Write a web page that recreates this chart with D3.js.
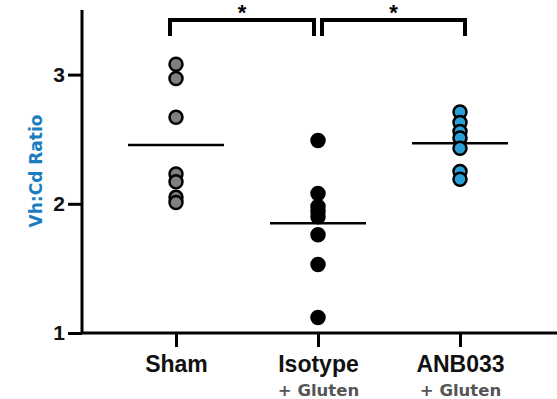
<!DOCTYPE html>
<html>
<head>
<meta charset="utf-8">
<script src="https://cdn.jsdelivr.net/npm/d3@7"></script>
<style>
  body { margin: 0; background: #fff; }
  svg { display: block; }
</style>
</head>
<body>
<div id="chart"></div>
<script>
// groups and values
var groups = ["Sham", "Isotype", "ANB033"];
var subLabels = ["", "+ Gluten", "+ Gluten"];
var fills = ["#808080", "#000000", "#2a9fd8"];
var shamVals = [3.08, 2.97, 2.67, 2.23, 2.17, 2.05, 2.01];
var isoVals = [2.49, 2.08, 1.98, 1.94, 1.90, 1.76, 1.53, 1.12];
var anbVals = [2.71, 2.63, 2.56, 2.51, 2.43, 2.25, 2.19];
var yTicks = [1, 2, 3];
var sigPairs = [["Sham", "Isotype", "*"], ["Isotype", "ANB033", "*"]];

var W = 557, H = 399;
var margin = {top: 10, right: 0, bottom: 66, left: 82};

var svg = d3.select("#chart").append("svg")
    .attr("width", W)
    .attr("height", H);

var x = d3.scalePoint()
    .domain(groups)
    .range([176, 460]);

var y = d3.scaleLinear()
    .domain([1, 3.5])
    .range([H - margin.bottom, margin.top]);

var data = [shamVals, isoVals, anbVals];

// y axis
var yAxis = svg.append("g")
    .attr("transform", "translate(" + margin.left + ",0)")
    .call(d3.axisLeft(y).tickValues(yTicks).tickSize(14).tickPadding(3).tickFormat(d3.format("d")));
yAxis.select(".domain").attr("stroke-width", 3).attr("d", "M0," + y(1) + "V" + y(3.5));
yAxis.selectAll(".tick line").attr("stroke-width", 3);
yAxis.selectAll(".tick text")
    .style("font-family", "Liberation Sans, Arial, sans-serif")
    .style("font-weight", "bold")
    .style("font-size", "21px")
    .attr("fill", "#111");

// x axis
var xAxis = svg.append("g")
    .attr("transform", "translate(0," + y(1) + ")")
    .call(d3.axisBottom(x).tickSize(14));
xAxis.select(".domain").attr("stroke-width", 3).attr("d", "M" + margin.left + ",0H" + W);
xAxis.selectAll(".tick line").attr("stroke-width", 3);
xAxis.selectAll(".tick text")
    .attr("y", 39)
    .attr("dy", null)
    .style("font-family", "Liberation Sans, Arial, sans-serif")
    .style("font-weight", "bold")
    .style("font-size", "23px")
    .attr("fill", "#111");

xAxis.selectAll(".tick").append("text")
    .attr("y", 63)
    .attr("text-anchor", "middle")
    .attr("fill", "#555")
    .style("font-family", "DejaVu Sans, Verdana, sans-serif")
    .style("font-weight", "bold")
    .style("font-size", "16.5px")
    .text(function(d, i) { return subLabels[i]; });

// y title
svg.append("text")
    .attr("transform", "translate(42," + 171 + ") rotate(-90)")
    .attr("text-anchor", "middle")
    .attr("fill", "#1a7dc0")
    .style("font-family", "DejaVu Sans, Verdana, sans-serif")
    .style("font-weight", "bold")
    .style("font-size", "17px")
    .text("Vh:Cd Ratio");

// mean lines
svg.selectAll(".mean")
    .data(groups)
  .enter().append("line")
    .attr("class", "mean")
    .attr("x1", function(d) { return x(d) - 48; })
    .attr("x2", function(d) { return x(d) + 48; })
    .attr("y1", function(d, i) { return y(d3.mean(data[i])); })
    .attr("y2", function(d, i) { return y(d3.mean(data[i])); })
    .attr("stroke", "#000")
    .attr("stroke-width", 2.5);

// points
groups.forEach(function(g, i) {
  svg.selectAll(".dot-" + i)
      .data(data[i])
    .enter().append("circle")
      .attr("cx", x(g))
      .attr("cy", function(d) { return y(d); })
      .attr("r", 6.5)
      .attr("fill", fills[i])
      .attr("stroke", "#000")
      .attr("stroke-width", 2.5);
});

// significance brackets
var bTop = 20, bBot = 36;
sigPairs.forEach(function(p, i) {
  var x1 = x(p[0]) + (i == 0 ? -6 : 4);
  var x2 = x(p[1]) + (i == 0 ? -4 : 5);
  svg.append("path")
    .attr("d", "M" + x1 + "," + bBot + "V" + bTop + "H" + x2 + "V" + bBot)
    .attr("fill", "none")
    .attr("stroke", "#000")
    .attr("stroke-width", 4);
  svg.append("text")
    .attr("x", (x1 + x2) / 2)
    .attr("y", 20)
    .attr("text-anchor", "middle")
    .style("font-family", "Liberation Sans, Arial, sans-serif")
    .style("font-weight", "bold")
    .style("font-size", "22px")
    .text(p[2]);
});
</script>
</body>
</html>
